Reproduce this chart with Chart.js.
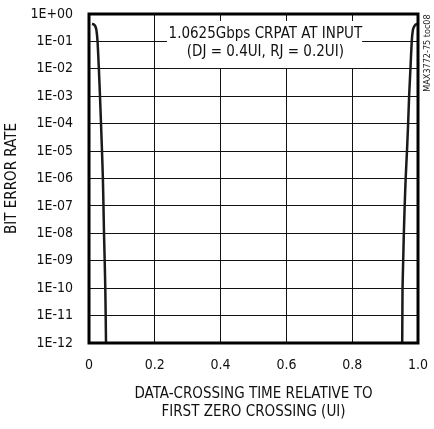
<!DOCTYPE html>
<html>
<head>
<meta charset="utf-8">
<script src="https://cdn.jsdelivr.net/npm/chart.js@4.4.1/dist/chart.umd.min.js"></script>
<style>
  html, body { margin: 0; padding: 0; background: #fff; }
  #wrap { width: 434px; height: 429px; position: relative; }
</style>
</head>
<body>
<div id="wrap"><canvas id="ber"></canvas></div>
<script>
  "use strict";
  const FONT = "'Liberation Sans Narrow', 'DejaVu Sans Condensed', 'Roboto Condensed', sans-serif";

  // axis ticks
  const xTickValues = [0, 0.2, 0.4, 0.6, 0.8, 1.0];
  const xTickLabels = ["0", "0.2", "0.4", "0.6", "0.8", "1.0"];
  const yTickValues = [1e-12, 1e-11, 1e-10, 1e-9, 1e-8, 1e-7, 1e-6, 1e-5, 1e-4, 1e-3, 1e-2, 1e-1, 1];
  const yTickLabels = ["1E-12", "1E-11", "1E-10", "1E-09", "1E-08", "1E-07", "1E-06",
                       "1E-05", "1E-04", "1E-03", "1E-02", "1E-01", "1E+00"];

  // bathtub curve (UI, BER)
  const leftX   = [0.009, 0.014, 0.019, 0.0225, 0.0260, 0.030, 0.0334, 0.0365, 0.0395, 0.0422, 0.0440, 0.0456, 0.0477, 0.0495, 0.0507, 0.0517];
  const leftBer = [0.43, 0.42, 0.36, 0.26, 0.1, 1e-2, 1e-3, 1e-4, 1e-5, 1e-6, 1e-7, 1e-8, 1e-9, 1e-10, 1e-11, 1e-12];
  const rightX   = [0.952, 0.9525, 0.953, 0.955, 0.957, 0.9595, 0.9625, 0.9665, 0.970, 0.9730, 0.9770, 0.981, 0.9845, 0.989, 0.994, 0.999];
  const rightBer = [1e-12, 1e-11, 1e-10, 1e-9, 1e-8, 1e-7, 1e-6, 1e-5, 1e-4, 1e-3, 1e-2, 1e-1, 0.26, 0.36, 0.42, 0.43];

  // annotation (data units)
  const noteLines = ["1.0625Gbps CRPAT AT INPUT", "(DJ = 0.4UI, RJ = 0.2UI)"];
  const noteBox = { x0: 0.237, x1: 0.830, y0: 0.556, y1: 0.0107 };
  const noteTextX = 0.536, noteTextY = [0.186, 0.041];
  const sideNote = "MAX3772-75 toc08";

  const pts = (xs, ys) => xs.map((x, i) => ({ x, y: ys[i] }));

  // white label box + text on top of grid
  const notePlugin = {
    id: "note",
    beforeDatasetsDraw(chart) {
      const { ctx, scales: { x, y } } = chart;
      const l = x.getPixelForValue(noteBox.x0), r = x.getPixelForValue(noteBox.x1);
      const t = y.getPixelForValue(noteBox.y0), b = y.getPixelForValue(noteBox.y1);
      ctx.save();
      ctx.fillStyle = "#fff";
      ctx.fillRect(l, t, r - l, b - t);
      ctx.fillStyle = "#111";
      ctx.font = "15px " + FONT;
      ctx.textAlign = "center"; ctx.textBaseline = "middle";
      noteLines.forEach((s, i) => ctx.fillText(s, x.getPixelForValue(noteTextX), y.getPixelForValue(noteTextY[i])));
      ctx.restore();
    },
    afterDraw(chart) {
      const { ctx, chartArea: { left, right, top, bottom } } = chart;
      ctx.save();
      ctx.lineWidth = 3; ctx.strokeStyle = "#000";
      ctx.strokeRect(left, top, right - left, bottom - top);
      // rotated id tag at right edge
      ctx.translate(428, 53);
      ctx.rotate(-Math.PI / 2);
      ctx.font = "9px " + FONT;
      ctx.fillStyle = "#222";
      ctx.textAlign = "center"; ctx.textBaseline = "middle";
      ctx.fillText(sideNote, 0, 0);
      ctx.restore();
    },
  };

  const line = (data) => ({ data, borderColor: "#1a1a1a", borderWidth: 2.5, pointRadius: 0, tension: 0.2, fill: false });

  new Chart(document.getElementById("ber"), {
    type: "line",
    data: { datasets: [line(pts(leftX, leftBer)), line(pts(rightX, rightBer))] },
    options: {
      responsive: true, maintainAspectRatio: false, animation: false,
      layout: { padding: { top: 14, right: 16, bottom: 8, left: 0 } },
      plugins: { legend: { display: false }, tooltip: { enabled: false } },
      scales: {
        x: {
          type: "linear", min: 0, max: 1,
          afterBuildTicks: (s) => { s.ticks = xTickValues.map((v) => ({ value: v })); },
          afterFit: (s) => { s.height = 78; s.paddingLeft = 0; s.paddingRight = 0; },
          grid: { color: "#111", lineWidth: 1, drawTicks: false },
          border: { display: false },
          ticks: { color: "#111", padding: 14, font: { family: FONT, size: 14 }, maxRotation: 0,
                   callback: (v, i) => xTickLabels[i] },
          title: { display: true, text: ["DATA-CROSSING TIME RELATIVE TO", "FIRST ZERO CROSSING (UI)"],
                   color: "#111", font: { family: FONT, size: 15 }, padding: { top: 4, bottom: 0 } },
        },
        y: {
          type: "logarithmic", min: 1e-12, max: 1,
          afterBuildTicks: (s) => { s.ticks = yTickValues.map((v) => ({ value: v })); },
          afterFit: (s) => { s.width = 89; s.paddingTop = 0; s.paddingBottom = 0; },
          grid: { color: "#111", lineWidth: 1, drawTicks: false },
          border: { display: false },
          ticks: { color: "#111", padding: 16, font: { family: FONT, size: 14 },
                   callback: (v, i) => yTickLabels[i] },
          title: { display: true, text: "BIT ERROR RATE", color: "#111",
                   font: { family: FONT, size: 15 }, padding: { top: 3, bottom: 0 } },
        },
      },
    },
    plugins: [notePlugin],
  });
</script>
</body>
</html>
